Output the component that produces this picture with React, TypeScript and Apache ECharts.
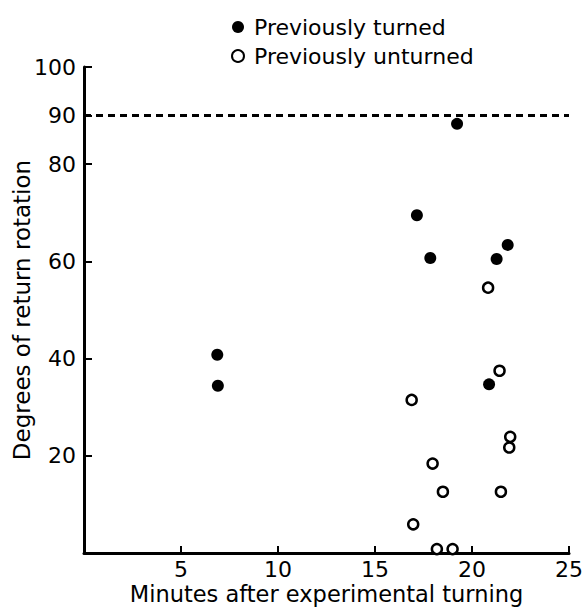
import React, { useEffect, useRef } from "react";
import * as echarts from "echarts";

const turnedX = [19.23, 17.16, 17.85, 21.27, 21.84, 6.87, 6.9, 20.88];
const turnedY = [88.3, 69.5, 60.7, 60.5, 63.4, 40.8, 34.4, 34.7];
const unturnedX = [20.83, 21.42, 16.89, 21.97, 21.92, 17.97, 18.5, 21.49, 16.97, 18.19, 19.0];
const unturnedY = [54.6, 37.5, 31.5, 23.9, 21.7, 18.4, 12.6, 12.6, 5.9, 0.8, 0.8];
const xTicks = [5, 10, 15, 20, 25];
const yTicks = [20, 40, 60, 80, 90, 100];
const referenceLevel = 90;
const seriesNames = ["Previously turned", "Previously unturned"];
const xTitle = "Minutes after experimental turning";
const yTitle = "Degrees of return rotation";

const FONT = "DejaVu Sans";

export default function App() {
  const ref = useRef<HTMLDivElement>(null);
  useEffect(() => {
    if (!ref.current) return;
    const chart = echarts.init(ref.current, undefined, { renderer: "svg" });
    const pair = (xs: number[], ys: number[]) => xs.map((x, i) => [x, ys[i]]);
    chart.setOption({
      animation: false,
      backgroundColor: "#ffffff",
      grid: { left: 84, right: 15, top: 67, bottom: 55, containLabel: false, outerBoundsMode: "none" },
      legend: {
        orient: "vertical",
        left: 226,
        top: 11,
        itemWidth: 12,
        itemHeight: 12,
        itemGap: 7,
        icon: "circle",
        selectedMode: false,
        textStyle: { fontFamily: FONT, fontSize: 22, color: "#000", lineHeight: 22, padding: [0, 0, 0, 5] },
        data: seriesNames,
      },
      xAxis: {
        type: "value",
        min: 0,
        max: 25,
        interval: 5,
        name: xTitle,
        nameLocation: "middle",
        nameGap: 29,
        nameMoveOverlap: false,
        nameTextStyle: { fontFamily: FONT, fontSize: 22.5, color: "#000", lineHeight: 24 },
        axisLine: { show: true, onZero: false, lineStyle: { color: "#000", width: 3 } },
        axisTick: { show: true, inside: true, length: 7, customValues: xTicks, lineStyle: { color: "#000", width: 2 } },
        axisLabel: { customValues: xTicks, fontFamily: FONT, fontSize: 22, color: "#000", margin: 5 },
        splitLine: { show: false },
      },
      yAxis: {
        type: "value",
        min: 0,
        max: 100,
        interval: 10,
        name: yTitle,
        nameLocation: "middle",
        nameGap: 51,
        nameMoveOverlap: false,
        nameTextStyle: { fontFamily: FONT, fontSize: 23, color: "#000" },
        axisLine: { show: true, onZero: false, lineStyle: { color: "#000", width: 3 } },
        axisTick: { show: true, inside: true, length: 8, customValues: yTicks, lineStyle: { color: "#000", width: 2 } },
        axisLabel: { customValues: yTicks, fontFamily: FONT, fontSize: 22, color: "#000", margin: 8 },
        splitLine: { show: false },
      },
      series: [
        {
          name: seriesNames[0],
          type: "scatter",
          symbol: "circle",
          symbolSize: 12,
          itemStyle: { color: "#000", opacity: 1 },
          data: pair(turnedX, turnedY),
          z: 5,
          markLine: {
            silent: true,
            symbol: "none",
            label: { show: false },
            lineStyle: { color: "#000", width: 3, type: [7, 5], opacity: 1 },
            data: [{ yAxis: referenceLevel }],
          },
        },
        {
          name: seriesNames[1],
          type: "scatter",
          symbol: "circle",
          symbolSize: 10,
          itemStyle: { color: "#fff", borderColor: "#000", borderWidth: 2.5, opacity: 1 },
          data: pair(unturnedX, unturnedY),
          z: 5,
        },
      ],
    });
    return () => chart.dispose();
  }, []);
  return (
    <div
      ref={ref}
      style={{ position: "fixed", left: 0, top: 0, width: 584, height: 608, background: "#fff" }}
    />
  );
}
